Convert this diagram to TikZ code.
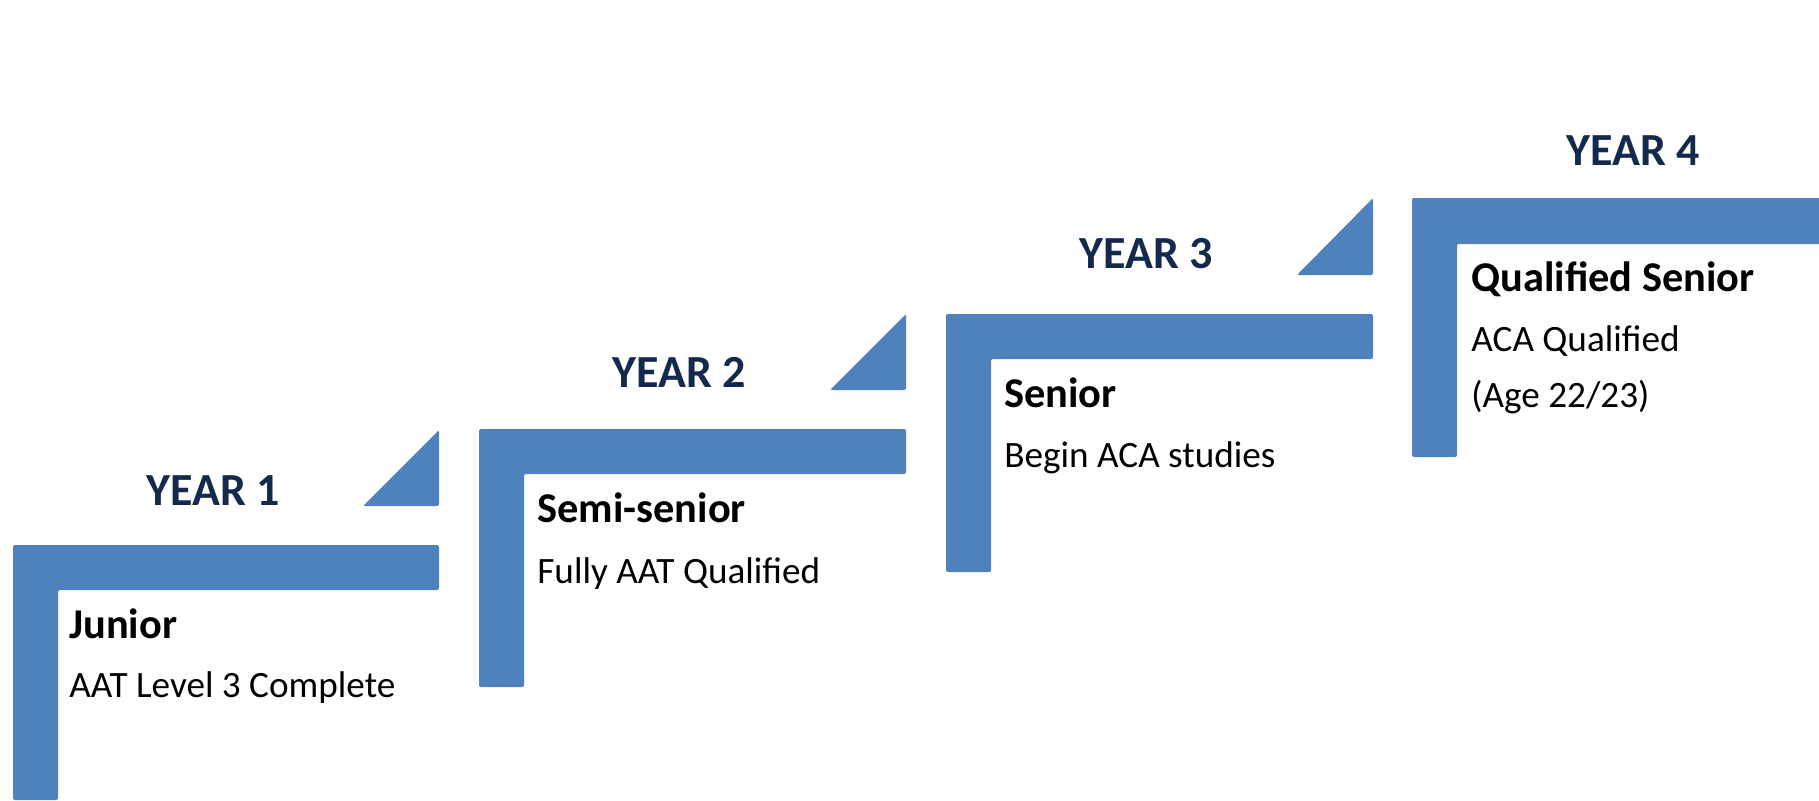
\documentclass[tikz,border=0pt]{standalone}
\usepackage{fontspec}
\setmainfont{Carlito}
\usepackage{tikz}
\usetikzlibrary{positioning}
\definecolor{stepblue}{HTML}{4F81BD}
\definecolor{yearnavy}{HTML}{142A4C}
\tikzstyle{stepbar} = [fill=stepblue, draw=none, rounded corners=1pt]
\tikzstyle{yearlabel} = [text=yearnavy, font=\fontsize{23}{28}\selectfont\bfseries, anchor=base, inner sep=0pt]
\tikzstyle{rolename} = [font=\fontsize{21.2}{25}\selectfont\bfseries, anchor=base west, inner sep=0pt]
\tikzstyle{roledesc} = [font=\fontsize{18.6}{22}\selectfont, anchor=base west, inner sep=0pt]

\begin{document}
\begin{tikzpicture}[x=0.5pt, y=-0.5pt]
\useasboundingbox (0,0) rectangle (1819,800);

% Steps
\fill [stepbar] (13,800) -- (13,545) -- (439,545) -- (439,590) -- (58,590) -- (58,800) -- cycle;
\fill [stepbar] (479,687) -- (479,429) -- (906,429) -- (906,474) -- (524,474) -- (524,687) -- cycle;
\fill [stepbar] (946,572) -- (946,314) -- (1373,314) -- (1373,359) -- (991,359) -- (991,572) -- cycle;
\fill [stepbar] (1412,457) -- (1412,198) -- (1830,198) -- (1830,244) -- (1457,244) -- (1457,457) -- cycle;

% Triangles
\fill [stepbar] (363,506) -- (439,506) -- (439,430) -- cycle;
\fill [stepbar] (830,390) -- (906,390) -- (906,314) -- cycle;
\fill [stepbar] (1297,275) -- (1373,275) -- (1373,198) -- cycle;

% Year labels
\node (year1) [yearlabel] at (213,505) {YEAR 1};
\node (year2) [yearlabel] at (679,387) {YEAR 2};
\node (year3) [yearlabel] at (1146,268) {YEAR 3};
\node (year4) [yearlabel] at (1633,165) {YEAR 4};

% Roles
\node (junior) [rolename] at (69,638) {Junior};
\node (juniordesc) [roledesc] at (69,697) {AAT Level 3 Complete};
\node (semisenior) [rolename] at (537,522) {Semi-senior};
\node (semiseniordesc) [roledesc] at (537,583) {Fully AAT Qualified};
\node (senior) [rolename] at (1004,407) {Senior};
\node (seniordesc) [roledesc] at (1004,467) {Begin ACA studies};
\node (qualified) [rolename] at (1471,291) {Qualified Senior};
\node (qualifieddesc) [roledesc] at (1471,351) {ACA Qualified};
\node (qualifiedage) [roledesc] at (1471,407) {(Age 22/23)};

\end{tikzpicture}
\end{document}
